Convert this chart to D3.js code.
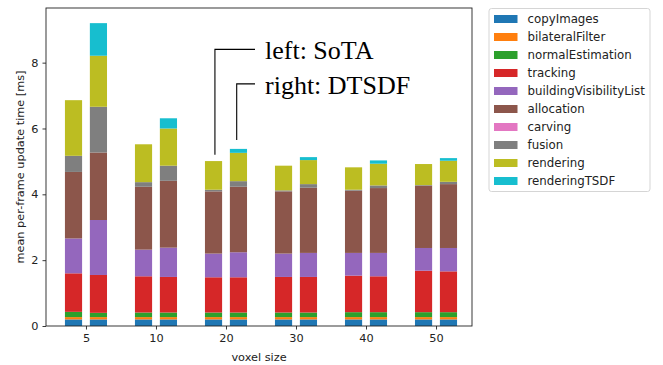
<!DOCTYPE html>
<html>
<head>
<meta charset="utf-8">
<script src="https://cdn.jsdelivr.net/npm/d3@7"></script>
<style>
body{margin:0;background:#fff;}
svg{display:block;font-family:"DejaVu Sans",sans-serif;}
</style>
</head>
<body>
<svg id="chart" width="663" height="365"></svg>
<script>
var voxelSizes=[5,10,20,30,40,50]
var components=["copyImages","bilateralFilter","normalEstimation","tracking","buildingVisibilityList","allocation","carving","fusion","rendering","renderingTSDF"]
var yTicks=[0,2,4,6,8]

// time per component [ms], one row per component, one column per voxel size
var sotaTimes=[
	[0.20,0.20,0.20,0.20,0.20,0.20],
	[0.07,0.07,0.07,0.07,0.07,0.07],
	[0.16,0.14,0.14,0.14,0.15,0.15],
	[1.17,1.10,1.07,1.08,1.11,1.26],
	[1.06,0.81,0.72,0.71,0.69,0.69],
	[2.02,1.91,1.89,1.89,1.89,1.89],
	[0,0,0,0,0,0],
	[0.49,0.14,0.05,0.03,0.03,0.02],
	[1.69,1.15,0.87,0.75,0.68,0.64],
	[0,0,0,0,0,0]
]
var dtsdfTimes=[
	[0.20,0.20,0.20,0.20,0.20,0.20],
	[0.07,0.07,0.07,0.07,0.07,0.07],
	[0.13,0.14,0.14,0.14,0.15,0.15],
	[1.15,1.08,1.07,1.08,1.09,1.24],
	[1.67,0.89,0.76,0.73,0.71,0.71],
	[2.05,2.03,1.99,1.98,1.97,1.94],
	[0,0,0,0,0,0],
	[1.39,0.46,0.17,0.11,0.08,0.07],
	[1.55,1.13,0.86,0.73,0.66,0.64],
	[0.99,0.31,0.12,0.09,0.10,0.08]
]

var colors=["#1f77b4","#ff7f0e","#2ca02c","#d62728","#9467bd","#8c564b","#e377c2","#7f7f7f","#bcbd22","#17becf"]

var plotLeft=46,plotRight=472,plotTop=8,plotBottom=326
var barOffset=0.178,barWidth=0.245

var svg=d3.select("#chart")

var xScale=d3.scaleLinear()
.domain([-0.571,5.514])
.range([plotLeft,plotRight])

var yScale=d3.scaleLinear()
.domain([0,9.66])
.range([plotBottom,plotTop])

var colorScale=d3.scaleOrdinal()
.domain(components)
.range(colors)

// one record per bar
var rows=[]
voxelSizes.forEach((v,i)=>{
	[[sotaTimes,-barOffset],[dtsdfTimes,barOffset]].forEach(([tab,off])=>{
		var r={pos:i+off}
		components.forEach((c,j)=>{r[c]=tab[j][i]})
		rows.push(r)
	})
})

var series=d3.stack().keys(components)(rows)

var bw=xScale(barWidth)-xScale(0)

svg.append("g")
.selectAll("g")
.data(series)
.enter()
.append("g")
.attr("fill",d=>colorScale(d.key))
.selectAll("rect")
.data(d=>d.filter(s=>s[1]-s[0]>0))
.enter()
.append("rect")
.attr("x",d=>xScale(d.data.pos)-bw/2)
.attr("width",bw)
.attr("y",d=>yScale(d[1]))
.attr("height",d=>yScale(d[0])-yScale(d[1]))

// axes
var xAxis=d3.axisBottom(xScale)
.tickValues(d3.range(voxelSizes.length))
.tickFormat(i=>voxelSizes[i])
.tickSize(3.5)
.tickPadding(4)

var yAxis=d3.axisLeft(yScale)
.tickValues(yTicks)
.tickSize(3.5)
.tickPadding(4)

svg.append("g")
.attr("transform","translate(0,"+plotBottom+")")
.call(xAxis)
.call(g=>g.select(".domain").remove())

svg.append("g")
.attr("transform","translate("+plotLeft+",0)")
.call(yAxis)
.call(g=>g.select(".domain").remove())

svg.selectAll(".tick text")
.attr("font-size","11.3px")
.attr("font-family","DejaVu Sans")
.attr("fill","#222")
svg.selectAll(".tick line")
.attr("stroke","#222")
.attr("stroke-width",0.9)

svg.append("rect")
.attr("x",plotLeft)
.attr("y",plotTop)
.attr("width",plotRight-plotLeft)
.attr("height",plotBottom-plotTop)
.attr("fill","none")
.attr("stroke","#222")
.attr("stroke-width",0.9)

svg.append("text")
.attr("x",(plotLeft+plotRight)/2)
.attr("y",361)
.attr("text-anchor","middle")
.attr("font-size","11.3px")
.attr("fill","#222")
.text("voxel size")

svg.append("text")
.attr("transform","translate(24,"+((plotTop+plotBottom)/2)+") rotate(-90)")
.attr("text-anchor","middle")
.attr("font-size","11.3px")
.attr("fill","#222")
.text("mean per-frame update time [ms]")

// annotations pointing at the 20 group
var notes=[
	{label:"left: SoTA",pos:2-barOffset+0.02,tip:5.2,base:8.1},
	{label:"right: DTSDF",pos:2+barOffset-0.025,tip:5.65,base:7.05}
]
var textX=265

notes.forEach(n=>{
	var lx=xScale(n.pos),ly=yScale(n.base)-10
	svg.append("path")
	.attr("d","M"+lx+","+yScale(n.tip)+"V"+ly+"H"+(textX-10))
	.attr("fill","none")
	.attr("stroke","#000")
	.attr("stroke-width",1.1)
	svg.append("text")
	.attr("x",textX)
	.attr("y",yScale(n.base))
	.attr("font-family","'Liberation Serif',serif")
	.attr("font-size","26px")
	.attr("fill","#000")
	.text(n.label)
})

// legend
var legend=svg.append("g")
legend.append("rect")
.attr("x",489)
.attr("y",8.5)
.attr("width",161)
.attr("height",183)
.attr("rx",2.5)
.attr("fill","#fff")
.attr("stroke","#d0d0d0")
.attr("stroke-width",0.9)

var items=legend.selectAll(".item")
.data(components)
.enter()
.append("g")
.attr("transform",(d,i)=>"translate(0,"+(19+18*i)+")")

items.append("rect")
.attr("x",494)
.attr("y",-4)
.attr("width",23.5)
.attr("height",8)
.attr("fill",d=>colorScale(d))

items.append("text")
.attr("x",527.5)
.attr("y",4.2)
.attr("font-size","11.8px")
.attr("fill","#222")
.text(d=>d)
</script>
</body>
</html>
